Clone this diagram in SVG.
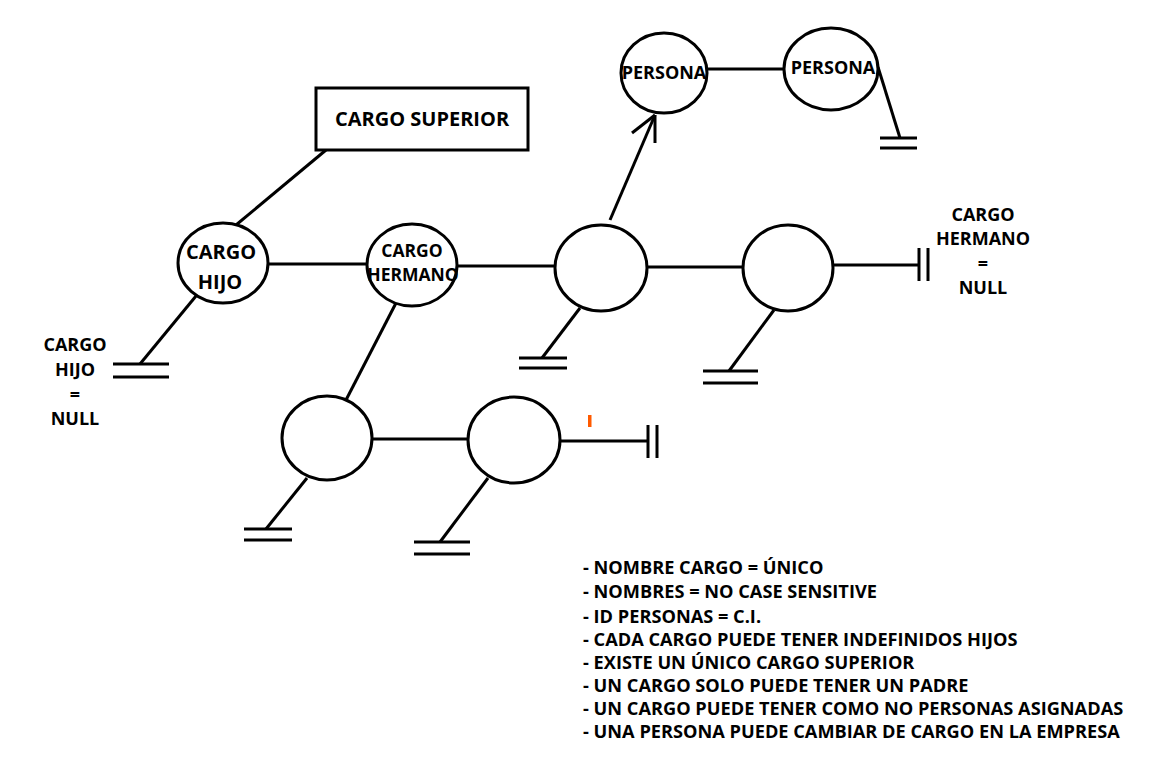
<svg xmlns="http://www.w3.org/2000/svg" width="1161" height="770" viewBox="0 0 1161 770">
<style>
.s{fill:none;stroke:#000;stroke-width:3;stroke-linecap:butt}
.n{fill:#fff;stroke:#000;stroke-width:3}
.t{font-family:"Open Sans","Noto Sans","Liberation Sans",sans-serif;font-weight:bold;fill:#000;text-anchor:middle}
.l{font-family:"Open Sans","Noto Sans","Liberation Sans",sans-serif;font-weight:bold;fill:#000;font-size:18.2px}
</style>
<rect width="1161" height="770" fill="#fff"/>
<g id="connectors">
<line class="s" x1="326" y1="150" x2="236" y2="225"/>
<line class="s" x1="268" y1="264" x2="367" y2="264"/>
<line class="s" x1="457" y1="266" x2="555" y2="266"/>
<line class="s" x1="647" y1="267" x2="743" y2="267"/>
<line class="s" x1="833" y1="265" x2="919" y2="265"/>
<line class="s" x1="919" y1="248" x2="919" y2="281"/>
<line class="s" x1="928" y1="248" x2="928" y2="281"/>
<line class="s" x1="196" y1="296" x2="140" y2="364"/>
<line class="s" x1="113" y1="364" x2="169" y2="364"/>
<line class="s" x1="113" y1="377" x2="169" y2="377"/>
<line class="s" x1="580" y1="308" x2="542" y2="358"/>
<line class="s" x1="519" y1="358" x2="567" y2="358"/>
<line class="s" x1="519" y1="368" x2="567" y2="368"/>
<line class="s" x1="774" y1="310" x2="729" y2="371"/>
<line class="s" x1="703" y1="371" x2="758" y2="371"/>
<line class="s" x1="703" y1="383" x2="758" y2="383"/>
<line class="s" x1="396" y1="303" x2="346" y2="400"/>
<line class="s" x1="373" y1="439" x2="468" y2="439"/>
<line class="s" x1="560" y1="441" x2="648" y2="441"/>
<line class="s" x1="648" y1="425" x2="648" y2="458"/>
<line class="s" x1="657" y1="425" x2="657" y2="458"/>
<line class="s" x1="307" y1="478" x2="266" y2="529"/>
<line class="s" x1="244" y1="529" x2="292" y2="529"/>
<line class="s" x1="244" y1="540" x2="292" y2="540"/>
<line class="s" x1="488" y1="478" x2="440" y2="542"/>
<line class="s" x1="414" y1="542" x2="470" y2="542"/>
<line class="s" x1="414" y1="554" x2="470" y2="554"/>
<line class="s" x1="610" y1="220" x2="655" y2="115"/>
<line class="s" x1="655" y1="115" x2="632" y2="133"/>
<line class="s" x1="655" y1="115" x2="655" y2="143"/>
<line class="s" x1="707" y1="69" x2="784" y2="69"/>
<line class="s" x1="878" y1="67" x2="900" y2="138"/>
<line class="s" x1="880" y1="138" x2="917" y2="138"/>
<line class="s" x1="880" y1="148" x2="917" y2="148"/>
</g>
<rect x="588" y="415" width="3.5" height="12" fill="#ff5a00"/>
<g id="cargo-superior">
<rect x="316" y="88" width="212" height="62" fill="#fff" stroke="#000" stroke-width="3"/>
<text class="t" x="422" y="126" font-size="20">CARGO SUPERIOR</text>
</g>
<g id="cargo-hijo">
<ellipse class="n" cx="223" cy="263" rx="45" ry="40"/>
<text class="t" x="221" y="259" font-size="20">CARGO</text>
<text class="t" x="220" y="289" font-size="20">HIJO</text>
</g>
<g id="cargo-hermano">
<ellipse class="n" cx="412" cy="265" rx="45" ry="41"/>
<text class="t" x="412" y="257" font-size="17.5">CARGO</text>
<text class="t" x="413" y="281" font-size="17.5">HERMANO</text>
</g>
<g id="nodo-3"><ellipse class="n" cx="601" cy="268" rx="46" ry="43"/></g>
<g id="nodo-4"><ellipse class="n" cx="788" cy="268" rx="45" ry="43"/></g>
<g id="nodo-5"><ellipse class="n" cx="327" cy="438" rx="45" ry="42"/></g>
<g id="nodo-6"><ellipse class="n" cx="514" cy="440" rx="46" ry="43"/></g>
<g id="persona-1">
<ellipse class="n" cx="664" cy="73" rx="43" ry="40"/>
<text class="t" x="664" y="79" font-size="18">PERSONA</text>
</g>
<g id="persona-2">
<ellipse class="n" cx="831" cy="69" rx="47" ry="41"/>
<text class="t" x="833" y="74" font-size="18">PERSONA</text>
</g>
<g id="hijo-null">
<text class="t" x="75" y="351" font-size="18">CARGO</text>
<text class="t" x="75" y="376" font-size="18">HIJO</text>
<text class="t" x="75" y="401" font-size="18">=</text>
<text class="t" x="75" y="425" font-size="18">NULL</text>
</g>
<g id="hermano-null">
<text class="t" x="983" y="221" font-size="18">CARGO</text>
<text class="t" x="983" y="245" font-size="18">HERMANO</text>
<text class="t" x="983" y="270" font-size="18">=</text>
<text class="t" x="983" y="294" font-size="18">NULL</text>
</g>
<g id="notas">
<text class="l" x="583" y="574">- NOMBRE CARGO = ÚNICO</text>
<text class="l" x="583" y="598">- NOMBRES = NO CASE SENSITIVE</text>
<text class="l" x="583" y="623">- ID PERSONAS = C.I.</text>
<text class="l" x="583" y="646">- CADA CARGO PUEDE TENER INDEFINIDOS HIJOS</text>
<text class="l" x="583" y="669">- EXISTE UN ÚNICO CARGO SUPERIOR</text>
<text class="l" x="583" y="692">- UN CARGO SOLO PUEDE TENER UN PADRE</text>
<text class="l" x="583" y="715">- UN CARGO PUEDE TENER COMO NO PERSONAS ASIGNADAS</text>
<text class="l" x="583" y="738">- UNA PERSONA PUEDE CAMBIAR DE CARGO EN LA EMPRESA</text>
</g>
</svg>
